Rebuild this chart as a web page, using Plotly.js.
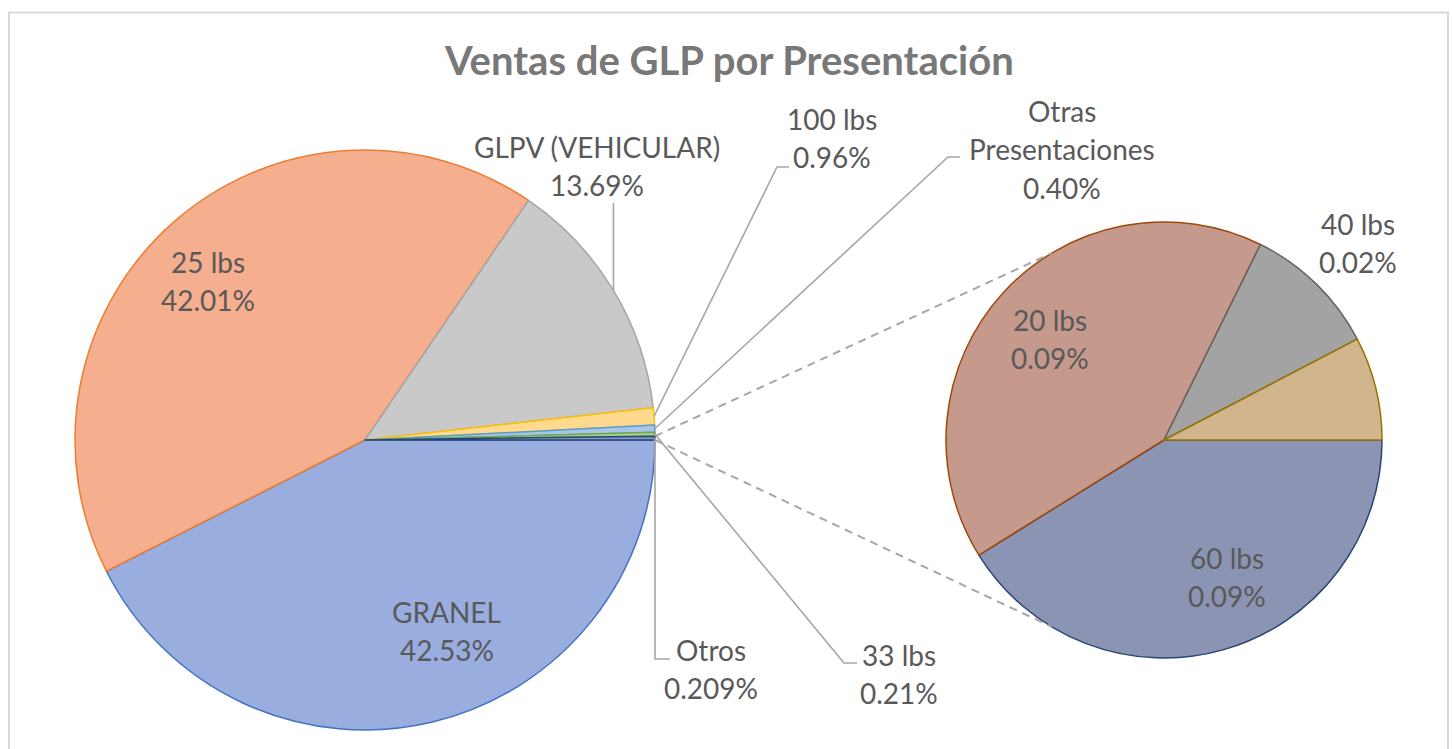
<!DOCTYPE html>
<html>
<head>
<meta charset="utf-8">
<script src="https://cdn.plot.ly/plotly-3.0.1.min.js"></script>
<style>html,body{margin:0;padding:0;background:#fff;}#chart{width:1452px;height:749px;}</style>
</head>
<body>
<div id="chart"></div>
<script>
// ---- data ----
const mainLabels = ['GRANEL', '25 lbs', 'GLPV (VEHICULAR)', '100 lbs', 'Otras Presentaciones', '33 lbs', 'Otros'];
const mainValues = [42.53, 42.01, 13.69, 0.96, 0.40, 0.21, 0.209];
const subLabels = ['60 lbs', '20 lbs', '40 lbs', 'Resto'];
const subValues = [0.086, 0.086, 0.021, 0.016];
const subShown = ['60 lbs', '20 lbs', '40 lbs'];

// ---- styling / geometry ----
const W = 1452, H = 749;
const mainC = {x: 365, y: 440, r: 290};
const subC = {x: 1164, y: 440, r: 218};
const mainFill = ['#9aaddf', '#f5ae8e', '#c9c9c9', '#ffd98e', '#a9c6e8', '#a9d08e', '#8796b8'];
const mainEdge = ['#4472c4', '#ed7d31', '#a5a5a5', '#ffc000', '#5b9bd5', '#70ad47', '#264478'];
const subFill = ['#8b95b3', '#c59a8c', '#a3a3a3', '#d0b58d'];
const subEdge = ['#264478', '#9e480e', '#636363', '#997300'];
const txtColor = '#595959';
const lineColor = '#a6a6a6';
const lineGap = 38.5;
const labelPos = {
  'GRANEL': [447, 631], '25 lbs': [208, 281], 'GLPV (VEHICULAR)': [597, 166],
  '100 lbs': [832, 138], 'Otras Presentaciones': [1062, 149], '33 lbs': [899, 674],
  'Otros': [711, 669], '60 lbs': [1227, 577], '20 lbs': [1050, 339], '40 lbs': [1358, 243]
};
// leader-line label end points [elbow, end]
const leaderEnd = {
  'GLPV (VEHICULAR)': [[null, 203]],
  '100 lbs': [[777, 167], [789, 167]],
  'Otras Presentaciones': [[948, 157], [960, 157]],
  '33 lbs': [[844, 663], [857, 663]],
  'Otros': [[null, 659], [670, 659]]
};

const px = x => x / W, py = y => 1 - y / H;
function fmt(v) {
  const h = v * 100;
  return Math.abs(Math.round(h) - h) < 1e-6 ? v.toFixed(2) : v.toFixed(3);
}
function angles(vals) {
  const tot = vals.reduce((a, b) => a + b, 0);
  let c = 0;
  return vals.map(v => { const a0 = c / tot * 360; c += v; return [a0, c / tot * 360]; });
}
function pt(C, deg, k) {
  const t = deg * Math.PI / 180;
  return [C.x + C.r * (k || 1) * Math.cos(t), C.y + C.r * (k || 1) * Math.sin(t)];
}

const traces = [
  {
    type: 'pie', labels: mainLabels, values: mainValues, sort: false, direction: 'clockwise', rotation: 90,
    textinfo: 'none', hoverinfo: 'label+percent', showlegend: false,
    marker: {colors: mainFill, line: {color: mainEdge, width: 1.5}},
    domain: {x: [px(mainC.x - mainC.r), px(mainC.x + mainC.r)], y: [py(mainC.y + mainC.r), py(mainC.y - mainC.r)]}
  },
  {
    type: 'pie', labels: subLabels, values: subValues, sort: false, direction: 'clockwise', rotation: 90,
    textinfo: 'none', hoverinfo: 'label+value', showlegend: false,
    marker: {colors: subFill, line: {color: subEdge, width: 1.5}},
    domain: {x: [px(subC.x - subC.r), px(subC.x + subC.r)], y: [py(subC.y + subC.r), py(subC.y - subC.r)]}
  }
];

const annotations = [];
const shapes = [];
function addLabel(lines, p) {
  const n = lines.length;
  lines.forEach((t, k) => {
    annotations.push({xref: 'paper', yref: 'paper', x: px(p[0]), y: py(p[1] + (k - (n - 1) / 2) * lineGap),
      xanchor: 'center', yanchor: 'middle', text: t, showarrow: false,
      font: {family: 'Lato', size: 28, color: txtColor}});
  });
}
const mainAng = angles(mainValues);
mainLabels.forEach((lab, i) => {
  const name = lab === 'Otras Presentaciones' ? ['Otras', 'Presentaciones'] : [lab];
  addLabel(name.concat([fmt(mainValues[i]) + '%']), labelPos[lab]);
  if (leaderEnd[lab]) {
    const mid = (mainAng[i][0] + mainAng[i][1]) / 2;
    const s = pt(mainC, mid);
    let d = 'M ' + px(s[0]) + ' ' + py(s[1]);
    leaderEnd[lab].forEach(q => {
      const x = q[0] === null ? s[0] : q[0];
      d += ' L ' + px(x) + ' ' + py(q[1]);
    });
    shapes.push({type: 'path', xref: 'paper', yref: 'paper', path: d, line: {color: lineColor, width: 1.6}});
  }
});
subLabels.forEach((lab, i) => {
  if (subShown.indexOf(lab) < 0) return;
  addLabel([lab, subValues[i].toFixed(2) + '%'], labelPos[lab]);
});
// connector lines from the "Otros" slice to the secondary pie
const oi = mainLabels.indexOf('Otros');
const oA = pt(mainC, mainAng[oi][0]), oB = pt(mainC, mainAng[oi][1]);
const sTop = pt(subC, 180 + 59), sBot = pt(subC, 180 - 59);
[[oA, sTop], [oB, sBot]].forEach(([a, b]) => {
  shapes.push({type: 'line', xref: 'paper', yref: 'paper', x0: px(a[0]), y0: py(a[1]), x1: px(b[0]), y1: py(b[1]),
    line: {color: lineColor, width: 2, dash: '8px,6px'}});
});
// chart border
shapes.push({type: 'rect', xref: 'paper', yref: 'paper', x0: px(9), x1: px(1448), y0: py(760), y1: py(12.5),
  line: {color: '#d9d9d9', width: 2}, fillcolor: 'rgba(0,0,0,0)'});

annotations.push({xref: 'paper', yref: 'paper', x: px(729), y: py(60), xanchor: 'center', yanchor: 'middle',
  text: '<b>Ventas de GLP por Presentación</b>', showarrow: false, font: {family: 'Lato', size: 40, color: '#787878'}});

const layout = {
  width: W, height: H, margin: {l: 0, r: 0, t: 0, b: 0},
  paper_bgcolor: '#ffffff', plot_bgcolor: '#ffffff',
  showlegend: false, annotations: annotations, shapes: shapes
};
Plotly.newPlot('chart', traces, layout, {displayModeBar: false, staticPlot: true});
</script>
</body>
</html>
